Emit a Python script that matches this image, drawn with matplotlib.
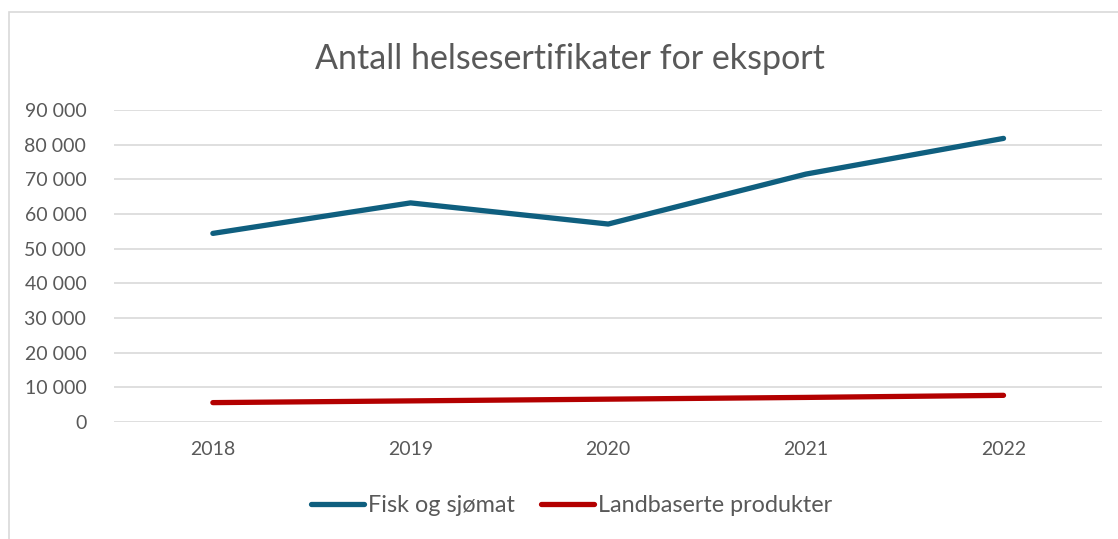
import matplotlib.pyplot as plt
from matplotlib.patches import Rectangle
from matplotlib.ticker import FuncFormatter

plt.rcParams['font.family'] = ['Lato', 'DejaVu Sans']

# data
years = ['2018', '2019', '2020', '2021', '2022']
fisk = [54400, 63200, 57100, 71500, 81800]
landbasert = [5600, 6100, 6600, 7100, 7700]
yticks = list(range(0, 90001, 10000))

blue = '#0f5f7f'
red = '#b30000'
grey = '#595959'

fig = plt.figure(figsize=(11.18, 5.39), dpi=100)
ax = fig.add_axes([0.102, 0.217, 0.884, 0.579])

# outer chart frame (cut off on right/bottom like in the original)
fig.patches.append(Rectangle((9 / 1118, -0.1), 1.2, 1 - 12 / 539 + 0.1,
                             transform=fig.transFigure, fill=False,
                             edgecolor='#d9d9d9', linewidth=1.2))

x = range(len(years))
ax.plot(x, fisk, color=blue, linewidth=3.8, solid_capstyle='round',
        solid_joinstyle='round', label='Fisk og sjømat')
ax.plot(x, landbasert, color=red, linewidth=3.8, solid_capstyle='round',
        label='Landbaserte produkter')

ax.set_xlim(-0.5, len(years) - 0.5)
ax.set_ylim(0, 90000)
ax.set_xticks(list(x))
ax.set_xticklabels(years)
ax.set_yticks(yticks)
ax.yaxis.set_major_formatter(FuncFormatter(lambda v, p: f'{int(v):,}'.replace(',', ' ')))
ax.tick_params(axis='both', length=0, labelsize=14, labelcolor=grey)
ax.tick_params(axis='y', pad=20)
ax.tick_params(axis='x', pad=14)

ax.grid(axis='y', color='#d9d9d9', linewidth=1.2)
ax.set_axisbelow(True)
for s in ax.spines.values():
    s.set_visible(False)

fig.text(0.51, 0.891, 'Antall helsesertifikater for eksport', ha='center', va='center',
         fontsize=24.5, color=grey)

fig.legend(loc='center', bbox_to_anchor=(0.511, 0.062), ncol=2, frameon=False,
           fontsize=16.8, labelcolor=grey, handlelength=2.3, handletextpad=0.15,
           columnspacing=1.1)

fig.savefig('out.png', dpi=100, facecolor='white')
